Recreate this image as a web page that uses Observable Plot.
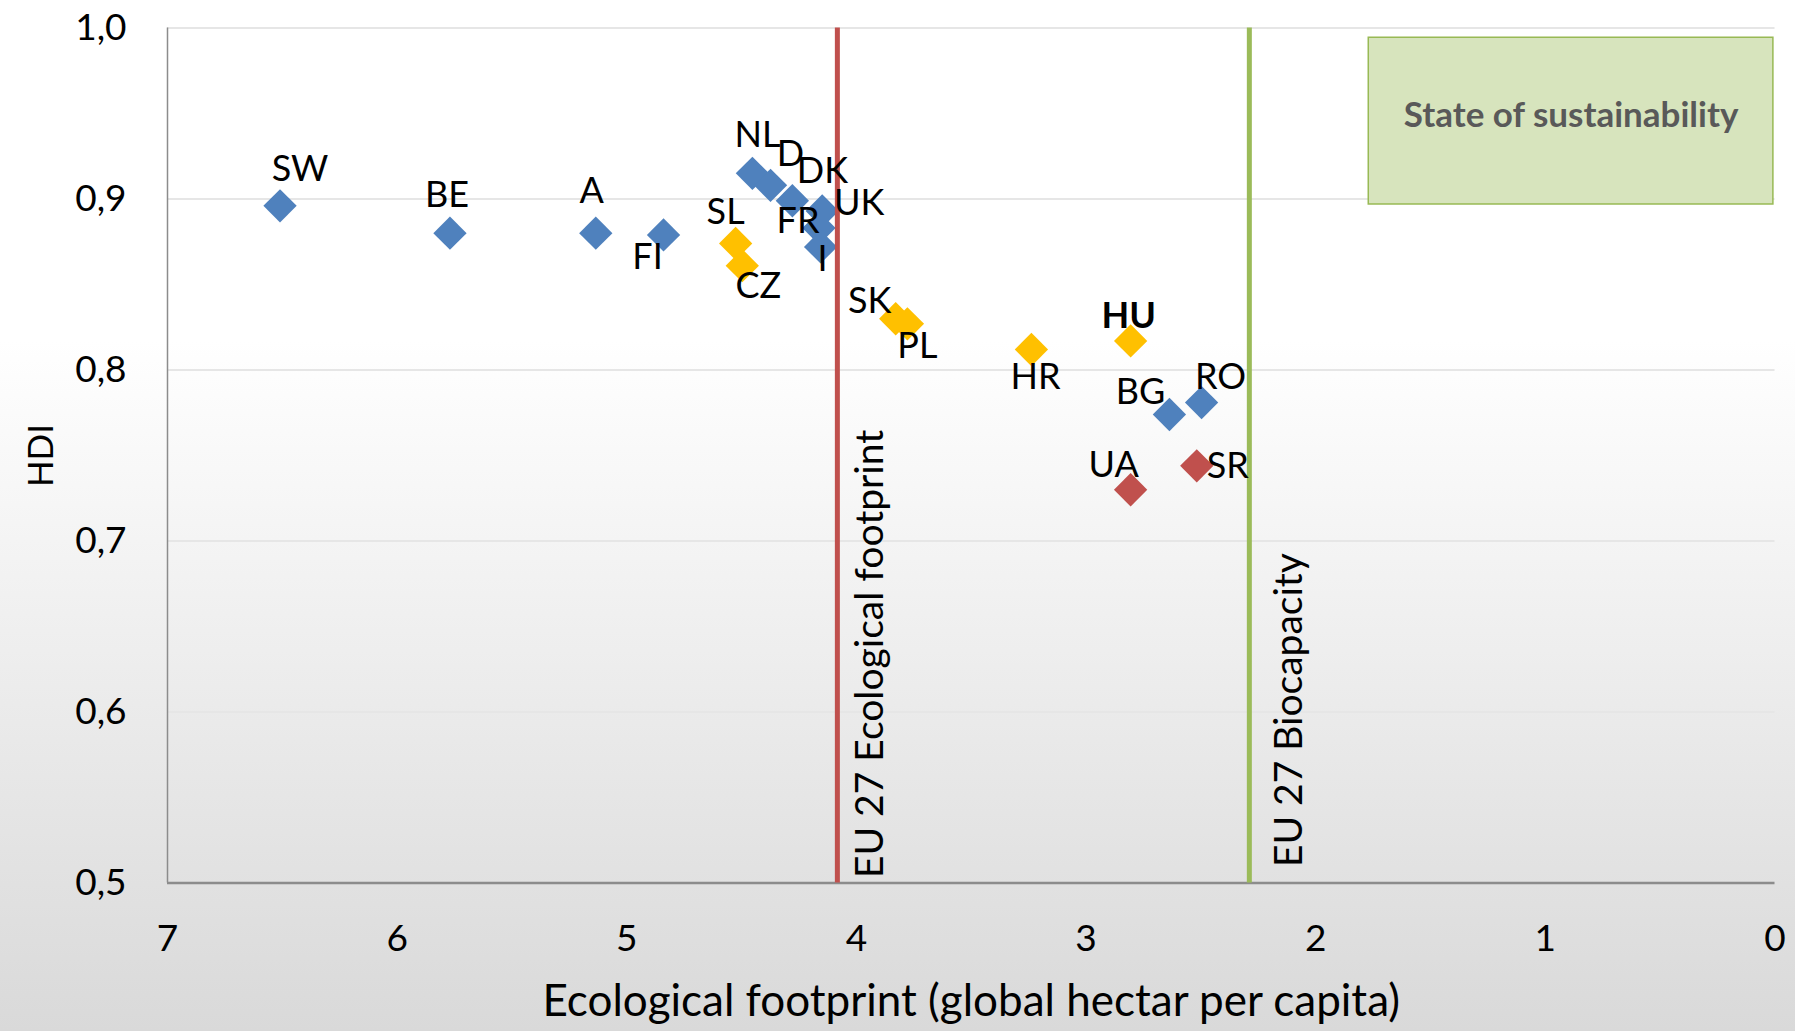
<!DOCTYPE html>
<html>
<head>
<meta charset="utf-8">
<script src="https://cdn.jsdelivr.net/npm/d3@7"></script>
<script src="https://cdn.jsdelivr.net/npm/@observablehq/plot@0.6"></script>
<style>
  html, body { margin: 0; padding: 0; }
  body {
    width: 1795px; height: 1031px; overflow: hidden;
    background: linear-gradient(to bottom, #ffffff 0%, #ffffff 33%, #d9d9d9 100%);
  }
  svg { display: block; overflow: visible; }
</style>
</head>
<body>
<div id="chart"></div>
<script>
// ---------- data ----------
const countries = ["SW","BE","A","FI","NL","D","DK","UK","FR","I","SL","CZ","SK","PL","HR","HU","BG","RO","UA","SR"];
const footprint = [6.51, 5.77, 5.135, 4.84, 4.453, 4.374, 4.279, 4.149, 4.163, 4.156, 4.526, 4.497, 3.829, 3.778, 3.238, 2.806, 2.637, 2.497, 2.806, 2.518];
const hdi       = [0.896, 0.880, 0.880, 0.879, 0.915, 0.908, 0.899, 0.893, 0.883, 0.872, 0.874, 0.861, 0.830, 0.827, 0.812, 0.817, 0.774, 0.781, 0.730, 0.744];
const groups    = ["A","A","A","A","A","A","A","A","A","A","B","B","B","B","B","B","A","A","C","C"];

const refNames  = ["EU 27 Ecological footprint", "EU 27 Biocapacity"];
const refValues = [4.083, 2.289];

const xTicks = [7, 6, 5, 4, 3, 2, 1, 0];
const yTicks = [0.5, 0.6, 0.7, 0.8, 0.9, 1.0];

const boxText = "State of sustainability";
const boxExtent = {x1: 1.769, x2: 0.007, y1: 0.8968, y2: 0.9943};

// ---------- styles / label placement ----------
const groupColors = {A: "#4f81bd", B: "#ffc000", C: "#c0504d"};
const refColors = ["#c0504d", "#9bbb59"];
const refLabelOffsets = [[33, -5], [40, -16]];
const labelOffsets = {
  SW: [20, -36], BE: [-3, -38], A: [-4, -42], FI: [-16, 23], NL: [5, -38], D: [20, -31],
  DK: [30, -29], UK: [37, -8], FR: [-21, -7], I: [2, 13], SL: [-10, -31], CZ: [16, 21],
  SK: [-26, -17], PL: [10, 23], HR: [4, 28], HU: [-2, -24], BG: [-29, -22], RO: [19, -25],
  UA: [-17, -24], SR: [31, 1]
};
const FONT = "Lato, 'Open Sans', sans-serif";

const points = countries.map((c, i) => ({name: c, x: footprint[i], y: hdi[i], group: groups[i]}));
const refs = refNames.map((n, i) => ({name: n, x: refValues[i], i}));
const box = [{...boxExtent, text: boxText}];

const labelMarks = points.map(p => Plot.text([p], {
  x: "x", y: "y", text: "name",
  dx: labelOffsets[p.name][0], dy: labelOffsets[p.name][1],
  fontSize: 36, fill: "#000", lineAnchor: "middle",
  fontWeight: p.name === "HU" ? "bold" : "normal"
}));

const refLineMarks = refs.map(r => Plot.ruleX([r], {x: "x", stroke: refColors[r.i], strokeWidth: 5}));
const refLabelMarks = refs.map(r => Plot.text([r], {
  x: "x", frameAnchor: "bottom", text: "name", rotate: -90,
  textAnchor: "start", lineAnchor: "middle",
  dx: refLabelOffsets[r.i][0], dy: refLabelOffsets[r.i][1],
  fontSize: 39, fill: "#000"
}));

const chart = Plot.plot({
  width: 1795,
  height: 1031,
  marginLeft: 167,
  marginRight: 20.5,
  marginTop: 27.5,
  marginBottom: 148.4,
  style: {background: "transparent", fontFamily: FONT, fontSize: "37px", color: "#000", overflow: "visible"},
  x: {domain: [7, 0], ticks: xTicks, tickSize: 0, tickPadding: 42, tickFormat: d => String(d), label: null},
  y: {domain: [0.5, 1.0], ticks: yTicks, tickSize: 0, tickPadding: 41, tickFormat: d => d.toFixed(1).replace(".", ","), label: null},
  color: {domain: Object.keys(groupColors), range: Object.values(groupColors)},
  marks: [
    Plot.ruleY(yTicks.filter(t => t > 0.5), {stroke: "#e6e6e6", strokeWidth: 2}),
    Plot.ruleX([7], {stroke: "#8c8c8c", strokeWidth: 1.5}),
    Plot.ruleY([0.5], {stroke: "#8c8c8c", strokeWidth: 2.5}),
    Plot.rect(box, {x1: "x1", x2: "x2", y1: "y1", y2: "y2", fill: "#d7e4bd", stroke: "#98b954", strokeWidth: 1.5}),
    Plot.text(box, {x: d => (d.x1 + d.x2) / 2, y: d => (d.y1 + d.y2) / 2, text: "text", fontSize: 35, fontWeight: "bold", fill: "#595959", lineAnchor: "middle", dy: -5}),
    Plot.dot(points, {x: "x", y: "y", fill: "group", symbol: "diamond2", r: 15, stroke: "none"}),
    ...refLineMarks,
    ...refLabelMarks,
    ...labelMarks,
    Plot.text(["HDI"], {frameAnchor: "left", dx: -126, rotate: -90, fontSize: 35, fill: "#000", textAnchor: "middle", lineAnchor: "middle"}),
    Plot.text(["Ecological footprint (global hectar per capita)"], {frameAnchor: "bottom", dy: 119, fontSize: 44, fill: "#000", textAnchor: "middle", lineAnchor: "middle"})
  ]
});
document.getElementById("chart").appendChild(chart);
</script>
</body>
</html>
